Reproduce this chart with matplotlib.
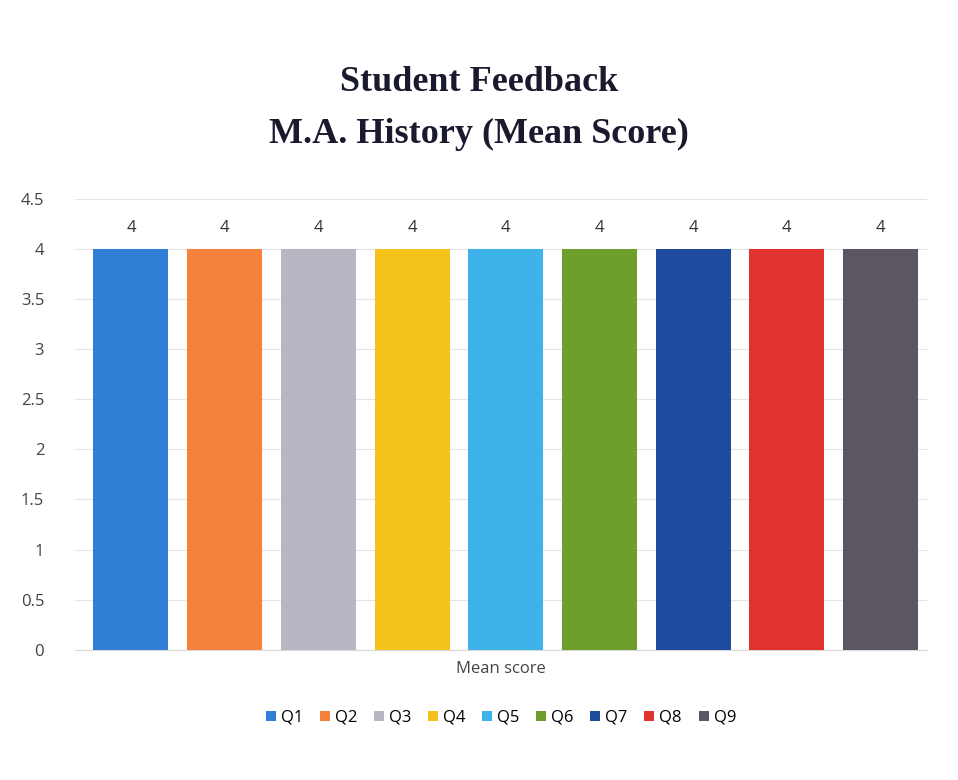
import matplotlib.pyplot as plt
import numpy as np

# data
questions = ["Q1", "Q2", "Q3", "Q4", "Q5", "Q6", "Q7", "Q8", "Q9"]
mean_scores = [4, 4, 4, 4, 4, 4, 4, 4, 4]
bar_colors = ["#2f7fd6", "#f5823a", "#b9b5c2", "#f5c21b", "#3eb3ea",
              "#6e9f2d", "#1f4b9e", "#e0332e", "#5c5662"]
yticks = [0, 0.5, 1, 1.5, 2, 2.5, 3, 3.5, 4, 4.5]


def main():
    fig = plt.figure(figsize=(9.58, 7.8), dpi=100)
    ax = fig.add_axes([0.078, 0.167, 0.89, 0.578])

    x = np.arange(len(questions))
    for i in range(len(questions)):
        ax.bar(x[i], mean_scores[i], width=0.8, color=bar_colors[i],
               label=questions[i], zorder=3)
        ax.text(x[i], mean_scores[i] + 0.13, f"{mean_scores[i]:g}",
                ha="center", va="bottom", fontsize=12, color="#333333",
                family="Open Sans")

    ax.set_ylim(0, 4.5)
    ax.set_xlim(-0.6, len(questions) - 0.5)
    ax.set_yticks(yticks)
    ax.set_yticklabels([f"{t:g}" for t in yticks], family="Open Sans",
                       fontsize=12, color="#444444")
    ax.set_xticks([])
    ax.yaxis.grid(True, color="#e4e4e4", linewidth=0.8, zorder=0)
    for s in ["top", "right", "left"]:
        ax.spines[s].set_visible(False)
    ax.spines["bottom"].set_color("#d9d9d9")
    ax.tick_params(axis="y", length=0, pad=22)

    ax.set_xlabel("Mean score", family="Open Sans", fontsize=12,
                  color="#444444", labelpad=8)

    fig.suptitle("Student Feedback\nM.A. History (Mean Score)", y=0.915,
                 family="Liberation Serif", fontweight="bold", fontsize=26,
                 color="#1a1a2e", linespacing=1.75)

    ax.legend(loc="upper center", bbox_to_anchor=(0.5, -0.1), ncol=9,
              frameon=False, handlelength=0.6, handleheight=0.6,
              handletextpad=0.3, columnspacing=1.0,
              prop={"family": "Open Sans", "size": 12})

    fig.savefig("out.png", dpi=100, facecolor="white")


if __name__ == "__main__":
    main()
